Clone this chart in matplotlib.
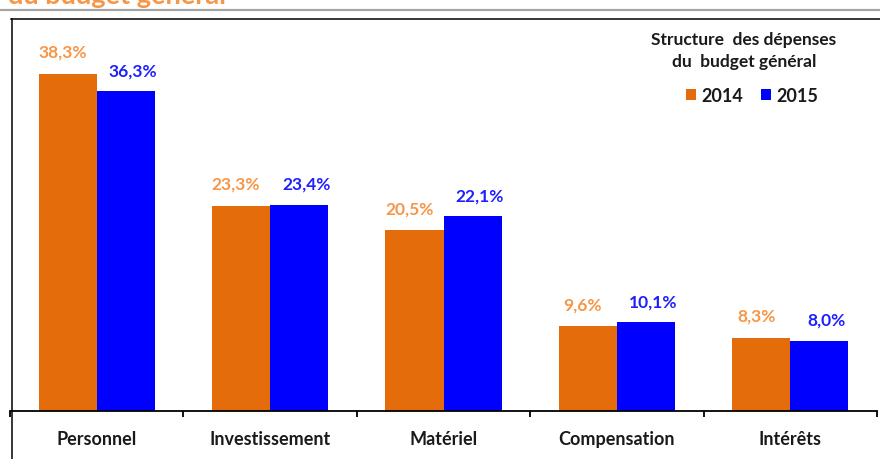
import matplotlib.pyplot as plt
from matplotlib.lines import Line2D

plt.rcParams['font.family'] = ['Lato', 'DejaVu Sans']
plt.rcParams['font.weight'] = 'bold'

categories = ['Personnel', 'Investissement', 'Matériel', 'Compensation', 'Intérêts']
years = ['2014', '2015']
part_2014 = [38.3, 23.3, 20.5, 9.6, 8.3]
part_2015 = [36.3, 23.4, 22.1, 10.1, 8.0]

orange = '#e46c0a'
blue = '#0000ff'
orange_txt = '#f79646'
blue_txt = '#2020ff'
dark = '#1a1a1a'

W, H = 880, 460
fig = plt.figure(figsize=(W / 100, H / 100), dpi=100)

# plot area in pixel terms: x 10..877, baseline at 412, frame top at 20
ax = fig.add_axes([10 / W, (H - 412) / H, 867 / W, 392 / H])
ax.set_xlim(-0.5, len(categories) - 0.5)
ax.set_ylim(0, 44.5)

bw = 0.335
xs = list(range(len(categories)))
b1 = ax.bar([x - bw / 2 for x in xs], part_2014, bw, color=orange, label=years[0])
b2 = ax.bar([x + bw / 2 for x in xs], part_2015, bw, color=blue, label=years[1])

# value labels above each bar
for x, v in zip(xs, part_2014):
    ax.annotate(f'{v:.1f}%'.replace('.', ','), (x - bw / 2, v), xytext=(-5, 22),
                textcoords='offset pixels', ha='center', va='center',
                color=orange_txt, fontsize=12.5, fontweight='bold')
for x, v in zip(xs, part_2015):
    ax.annotate(f'{v:.1f}%'.replace('.', ','), (x + bw / 2, v), xytext=(7, 21),
                textcoords='offset pixels', ha='center', va='center',
                color=blue_txt, fontsize=12.5, fontweight='bold')

for s in ['top', 'right', 'left']:
    ax.spines[s].set_visible(False)
ax.spines['bottom'].set_linewidth(1.3)
ax.set_yticks([])

# tick marks at the category boundaries, names centred between them
ax.set_xticks([x - 0.5 for x in range(len(categories) + 1)])
ax.set_xticklabels([])
ax.tick_params(axis='x', which='major', direction='out', length=4, width=1.3)
ax.set_xticks(xs, minor=True)
ax.set_xticklabels(categories, minor=True, fontsize=13, fontweight='bold', color=dark)
ax.tick_params(axis='x', which='minor', length=0, pad=14)

# chart frame and header rule
fig.add_artist(Line2D([0, 1], [(H - 10.5) / H] * 2, color='#a6a6a6', lw=1.6))
fig.add_artist(Line2D([11 / W, 1], [(H - 20) / H] * 2, color='black', lw=1.1))
fig.add_artist(Line2D([11.5 / W] * 2, [0, (H - 20) / H], color='black', lw=1.1))

fig.text(8 / W, (H - 4) / H, 'du budget général', color=orange_txt,
         fontsize=19.5, fontweight='bold', ha='left', va='baseline')

fig.text(744 / W, (H - 40) / H, 'Structure  des dépenses', ha='center', va='center',
         fontsize=12.5, fontweight='bold', color=dark)
fig.text(744 / W, (H - 62) / H, 'du  budget général', ha='center', va='center',
         fontsize=12.5, fontweight='bold', color=dark)
ax.legend(handles=[b1, b2], loc='center', bbox_to_anchor=(752 / W, (H - 96) / H),
          bbox_transform=fig.transFigure, ncol=2, frameon=False,
          handlelength=0.55, handleheight=0.55, handletextpad=0.3,
          columnspacing=1.0, prop={'size': 13, 'weight': 'bold'})
for t in ax.get_legend().get_texts():
    t.set_color(dark)

fig.savefig('out.png', dpi=100)
